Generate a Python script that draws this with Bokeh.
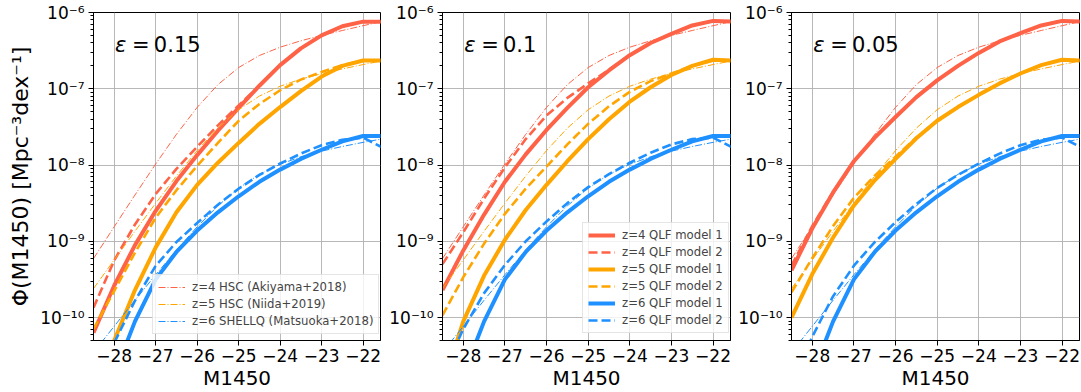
import numpy as np
from bokeh.plotting import figure
from bokeh.models import (Range1d, FixedTicker, CustomJSTickFormatter, Legend,
                          LegendItem, Label)
from bokeh.layouts import row
from bokeh.embed import file_html
from bokeh.resources import INLINE

# ---------------- data (log10 Phi) ----------------
M1450 = [-28.5, -28.0, -27.5, -27.0, -26.5, -26.0, -25.5, -25.0,
         -24.5, -24.0, -23.5, -23.0, -22.5, -22.0, -21.5]
X_TICKS = [-28, -27, -26, -25, -24, -23, -22]
EPS_TEXT = ["0.15", "0.1", "0.05"]

# observational QLFs (same in every panel)
obs_z4_akiyama = [-9.227, -8.809, -8.393, -7.986, -7.598, -7.244, -6.946, -6.722,
                  -6.564, -6.455, -6.371, -6.300, -6.236, -6.173, -6.112]
obs_z5_niida = [-9.620, -9.243, -8.868, -8.500, -8.144, -7.810, -7.516, -7.275,
                -7.096, -6.967, -6.874, -6.802, -6.740, -6.683, -6.629]
obs_z6_matsuoka = [-10.457, -10.114, -9.773, -9.439, -9.115, -8.810, -8.535, -8.304,
                   -8.123, -7.990, -7.892, -7.818, -7.757, -7.703, -7.654]

# eps = 0.15
z4_m1_e015 = [-10.20, -9.58, -9.05, -8.60, -8.21, -7.87, -7.55, -7.25,
              -6.96, -6.69, -6.47, -6.30, -6.18, -6.12, -6.12]
z4_m2_e015 = [-9.87, -9.25, -8.78, -8.38, -8.05, -7.76, -7.48, -7.22,
              -6.96, -6.69, -6.47, -6.30, -6.18, -6.12, -6.12]
z5_m1_e015 = [-11.10, -10.30, -9.64, -9.08, -8.62, -8.26, -7.97, -7.71,
              -7.46, -7.24, -7.03, -6.84, -6.70, -6.63, -6.63]
z5_m2_e015 = [-10.15, -9.65, -9.15, -8.69, -8.33, -8.01, -7.71, -7.42,
              -7.20, -7.02, -6.88, -6.78, -6.69, -6.63, -6.63]
z6_m1_e015 = [-11.60, -10.75, -10.05, -9.50, -9.14, -8.86, -8.62, -8.41,
              -8.22, -8.06, -7.92, -7.80, -7.69, -7.62, -7.62]
z6_m2_e015 = [-10.95, -10.33, -9.78, -9.32, -9.01, -8.76, -8.52, -8.31,
              -8.13, -7.98, -7.85, -7.74, -7.67, -7.64, -7.78]

# eps = 0.1
z4_m1_e010 = [-9.64, -9.12, -8.65, -8.22, -7.86, -7.54, -7.25, -6.98,
              -6.76, -6.56, -6.40, -6.28, -6.17, -6.11, -6.12]
z4_m2_e010 = [-9.30, -8.88, -8.44, -8.03, -7.66, -7.35, -7.12, -6.93,
              -6.75, -6.56, -6.40, -6.28, -6.17, -6.11, -6.12]
z5_m1_e010 = [-10.90, -10.05, -9.45, -8.98, -8.59, -8.26, -7.95, -7.66,
              -7.40, -7.17, -6.98, -6.82, -6.70, -6.62, -6.63]
z5_m2_e010 = [-9.97, -9.47, -9.03, -8.64, -8.31, -8.02, -7.73, -7.46,
              -7.23, -7.04, -6.90, -6.80, -6.70, -6.63, -6.63]
z6_m1_e010 = [-11.60, -10.75, -10.05, -9.50, -9.14, -8.86, -8.62, -8.41,
              -8.22, -8.06, -7.92, -7.80, -7.69, -7.62, -7.62]
z6_m2_e010 = [-10.75, -10.15, -9.68, -9.31, -9.00, -8.74, -8.50, -8.29,
              -8.12, -7.97, -7.84, -7.73, -7.66, -7.64, -7.78]

# eps = 0.05
z4_m1_e005 = [-9.38, -8.83, -8.36, -7.95, -7.64, -7.37, -7.11, -6.89,
              -6.70, -6.53, -6.38, -6.27, -6.17, -6.11, -6.12]
z4_m2_e005 = [-9.32, -8.80, -8.35, -7.95, -7.64, -7.37, -7.11, -6.89,
              -6.70, -6.53, -6.38, -6.27, -6.17, -6.11, -6.12]
z5_m1_e005 = [-10.00, -9.43, -8.95, -8.53, -8.20, -7.92, -7.65, -7.42,
              -7.24, -7.08, -6.93, -6.80, -6.69, -6.62, -6.63]
z5_m2_e005 = [-9.67, -9.22, -8.80, -8.43, -8.14, -7.89, -7.64, -7.42,
              -7.24, -7.08, -6.93, -6.80, -6.69, -6.62, -6.63]
z6_m1_e005 = [-11.60, -10.75, -10.05, -9.50, -9.14, -8.86, -8.62, -8.41,
              -8.22, -8.06, -7.92, -7.80, -7.69, -7.62, -7.62]
z6_m2_e005 = [-10.85, -10.25, -9.72, -9.32, -9.01, -8.75, -8.51, -8.30,
              -8.13, -7.98, -7.85, -7.74, -7.67, -7.64, -7.78]

PANELS = [
    [z4_m1_e015, z4_m2_e015, z5_m1_e015, z5_m2_e015, z6_m1_e015, z6_m2_e015],
    [z4_m1_e010, z4_m2_e010, z5_m1_e010, z5_m2_e010, z6_m1_e010, z6_m2_e010],
    [z4_m1_e005, z4_m2_e005, z5_m1_e005, z5_m2_e005, z6_m1_e005, z6_m2_e005],
]
MODEL_LABELS = ["z=4 QLF model 1", "z=4 QLF model 2", "z=5 QLF model 1",
                "z=5 QLF model 2", "z=6 QLF model 1", "z=6 QLF model 2"]
OBS = [obs_z4_akiyama, obs_z5_niida, obs_z6_matsuoka]
OBS_LABELS = ["z=4 HSC (Akiyama+2018)", "z=5 HSC (Niida+2019)",
              "z=6 SHELLQ (Matsuoka+2018)"]

RED, ORANGE, BLUE = "#ff6347", "#ffa500", "#1e90ff"
COLS = [RED, ORANGE, BLUE]
FONT = "DejaVu Sans"

SUP_JS = """
const e = Math.round(Math.log10(tick));
const sup = {"-": "\\u207b", "0": "\\u2070", "1": "\\u00b9", "2": "\\u00b2", "3": "\\u00b3",
             "4": "\\u2074", "5": "\\u2075", "6": "\\u2076", "7": "\\u2077", "8": "\\u2078", "9": "\\u2079"};
return "10" + String(e).split("").map(c => sup[c]).join("");
"""
MINUS_JS = """
return (tick < 0 ? "\\u2212" : "") + Math.abs(tick).toFixed(0);
"""


def make_panel(i, width, bl, br):
    p = figure(width=width, height=392, y_axis_type="log",
               x_range=Range1d(-28.5, -21.58), y_range=Range1d(5e-11, 1e-6),
               output_backend="svg", toolbar_location=None,
               min_border_left=bl, min_border_right=br,
               min_border_top=12, min_border_bottom=52)
    p.background_fill_color = "white"
    p.border_fill_color = "white"
    p.outline_line_color = "black"
    p.outline_line_width = 1
    p.outline_line_alpha = 1

    p.xaxis.ticker = FixedTicker(ticks=X_TICKS, minor_ticks=[])
    p.xaxis.formatter = CustomJSTickFormatter(code=MINUS_JS)
    p.yaxis.formatter = CustomJSTickFormatter(code=SUP_JS)
    for ax in (p.xaxis, p.yaxis):
        ax.axis_line_color = "black"
        ax.major_tick_line_color = "black"
        ax.minor_tick_line_color = "black"
        ax.major_tick_out = 5
        ax.major_tick_in = 0
        ax.minor_tick_out = 3
        ax.minor_tick_in = 0
        ax.major_label_text_font = FONT
        ax.major_label_text_font_size = "17px"
        ax.major_label_text_color = "black"
        ax.axis_label_text_font = FONT
        ax.axis_label_text_font_style = "normal"
        ax.axis_label_text_color = "black"
    p.xaxis.axis_label_text_font_size = "20px"
    p.yaxis.axis_label_text_font_size = "22px"
    p.xaxis.major_label_standoff = 3
    p.xaxis.axis_label_standoff = 1
    p.yaxis.major_label_standoff = 4
    p.yaxis.axis_label_standoff = 4
    p.xaxis.axis_label = "M1450"
    if i == 0:
        p.yaxis.axis_label = "\u03a6(M1450) [Mpc\u207b\u00b3dex\u207b\u00b9]"

    p.xgrid.ticker = FixedTicker(ticks=X_TICKS)
    for g in (p.xgrid, p.ygrid):
        g.grid_line_color = "#b0b0b0"
        g.grid_line_width = 1
        g.grid_line_alpha = 0.9

    x = np.array(M1450)
    model_r = []
    for k, arr in enumerate(PANELS[i]):
        col = COLS[k // 2]
        if k % 2 == 0:
            r = p.line(x, np.power(10.0, arr), line_color=col, line_width=4)
        else:
            r = p.line(x, np.power(10.0, arr), line_color=col, line_width=2.6,
                       line_dash="9 4")
        model_r.append(r)
    obs_r = []
    for k, arr in enumerate(OBS):
        r = p.line(x, np.power(10.0, arr), line_color=COLS[k], line_width=1,
                   line_dash="7 2 1 2")
        obs_r.append(r)

    ytxt = 10 ** (-6.43)
    p.add_layout(Label(x=-27.98, y=ytxt, text="\u03b5", text_font=FONT,
                       text_font_style="italic", text_font_size="21px",
                       text_baseline="middle", text_color="black"))
    p.add_layout(Label(x=-27.98, y=ytxt, x_offset=17, text="=\u2009" + EPS_TEXT[i],
                       text_font=FONT, text_font_size="21px",
                       text_baseline="middle", text_color="black"))

    leg_kw = dict(label_text_font=FONT, label_text_font_size="11.7px",
                  glyph_width=27, glyph_height=14, label_height=14,
                  label_standoff=7, spacing=3, padding=5, margin=0,
                  border_line_color="#cccccc", border_line_width=1,
                  background_fill_color="white", background_fill_alpha=0.8)
    if i == 0:
        items = [LegendItem(label=l, renderers=[r]) for l, r in zip(OBS_LABELS, obs_r)]
        p.add_layout(Legend(items=items, location=(59, 6), **leg_kw))
    elif i == 1:
        items = [LegendItem(label=l, renderers=[r]) for l, r in zip(MODEL_LABELS, model_r)]
        p.add_layout(Legend(items=items, location=(140, 7), **leg_kw))
    return p


p1 = make_panel(0, 381, 93, 1)
p2 = make_panel(1, 350, 61, 1)
p3 = make_panel(2, 350, 60, 2)
layout = row(p1, p2, p3, spacing=0)

open("out.html", "w").write(file_html(layout, INLINE))
